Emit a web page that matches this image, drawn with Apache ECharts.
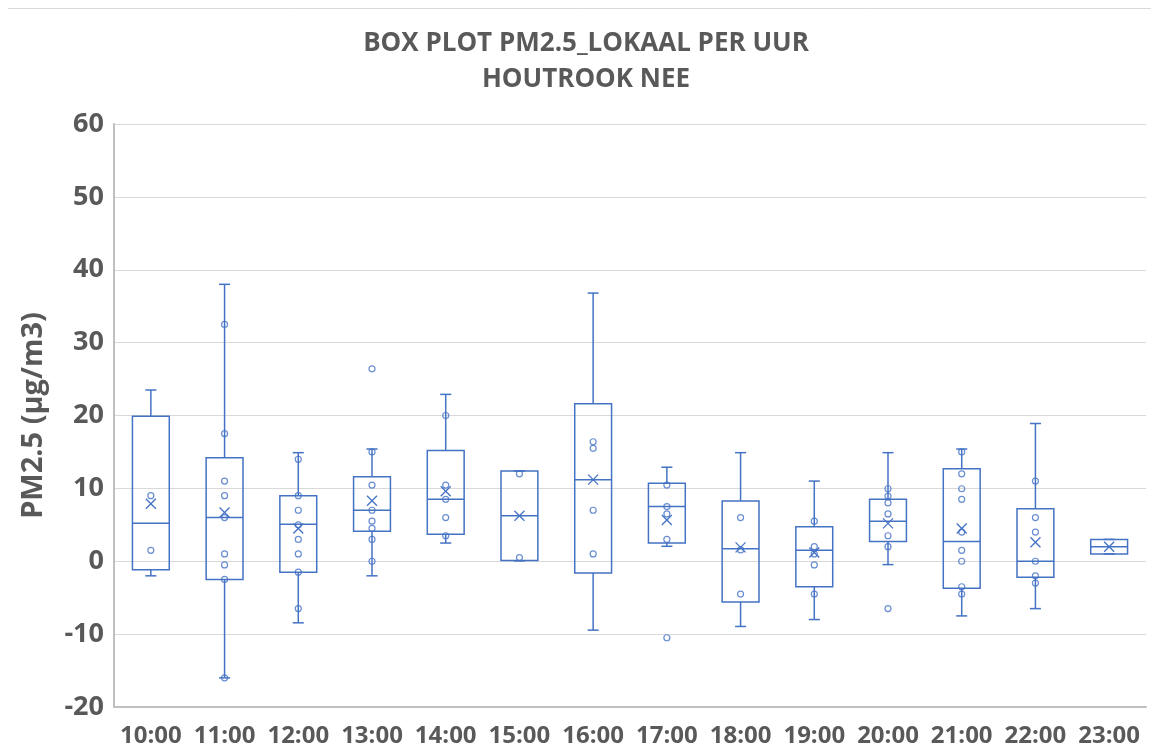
<!DOCTYPE html>
<html>
<head>
<meta charset="utf-8">
<script src="https://cdn.jsdelivr.net/npm/echarts@6/dist/echarts.min.js"></script>
<style>html,body{margin:0;padding:0;background:#fff}#c{width:1151px;height:753px}</style>
</head>
<body>
<div id="c"></div>
<script>
const categories = ['10:00','11:00','12:00','13:00','14:00','15:00','16:00','17:00','18:00','19:00','20:00','21:00','22:00','23:00'];
// [whisker low, Q1, median, Q3, whisker high]
const boxStats = [
  [-2.0, -1.15, 5.2, 19.9, 23.5],
  [-16.0, -2.5, 6.0, 14.2, 38.0],
  [-8.45, -1.5, 5.07, 9.0, 14.9],
  [-2.0, 4.1, 7.0, 11.6, 15.4],
  [2.5, 3.7, 8.5, 15.2, 22.9],
  [0.05, 0.1, 6.25, 12.4, 12.4],
  [-9.45, -1.6, 11.2, 21.6, 36.8],
  [2.05, 2.5, 7.5, 10.7, 12.9],
  [-8.95, -5.6, 1.7, 8.26, 14.9],
  [-8.0, -3.5, 1.5, 4.75, 11.0],
  [-0.46, 2.7, 5.5, 8.5, 14.9],
  [-7.5, -3.7, 2.7, 12.7, 15.4],
  [-6.5, -2.2, 0.0, 7.2, 18.9],
  [1.0, 1.0, 2.0, 3.0, 3.0]
];
const means = [7.9, 6.7, 4.5, 8.3, 9.6, 6.25, 11.2, 5.65, 1.9, 1.2, 5.2, 4.5, 2.6, 2.0];
const points = [
  [9.0, 1.5],
  [32.5, 17.5, 11.0, 9.0, 6.0, 1.0, -0.5, -2.5, -16.0],
  [14.0, 9.0, 7.0, 5.0, 3.0, 1.0, -1.5, -6.5],
  [26.4, 15.0, 10.45, 7.0, 5.5, 4.5, 3.0, 0.0],
  [20.0, 10.45, 8.5, 6.0, 3.5],
  [12.0, 0.5],
  [16.4, 15.5, 7.0, 1.0],
  [10.45, 7.5, 6.5, 3.0, -10.5],
  [6.0, 1.55, -4.5],
  [5.5, 2.0, 1.0, -0.5, -4.5],
  [9.95, 8.95, 8.0, 6.5, 3.5, 2.0, -6.5],
  [15.0, 12.0, 9.95, 8.5, 4.0, 1.5, 0.0, -3.5, -4.5],
  [11.0, 6.0, 4.0, 0.0, -2.0, -3.0],
  []
];
const yTicks = {min: -20, max: 60, interval: 10};

const BLUE = '#4472C4';
const GREY = '#595959';
const FONT = 'Open Sans';

const boxData = boxStats.map((s, i) => [i].concat(s).concat([means[i]]));
const pointData = [];
points.forEach((arr, i) => arr.forEach(v => pointData.push([i, v])));

const chart = echarts.init(document.getElementById('c'), null, {renderer: 'canvas'});
chart.setOption({
  animation: false,
  backgroundColor: '#fff',
  title: {
    text: 'BOX PLOT PM2.5_LOKAAL PER UUR\nHOUTROOK NEE',
    left: 581, top: 21, textAlign: 'center',
    textStyle: {fontFamily: FONT, fontWeight: 'bold', fontSize: 26, color: GREY, lineHeight: 36}
  },
  graphic: [{
    type: 'line', shape: {x1: 8, y1: 8.5, x2: 1151, y2: 8.5},
    style: {stroke: '#d9d9d9', lineWidth: 1}, silent: true
  }],
  grid: {left: 114, right: 5, top: 124, bottom: 46, containLabel: false},
  xAxis: {
    type: 'category', data: categories,
    axisTick: {show: false},
    axisLine: {onZero: false, lineStyle: {color: '#bfbfbf', width: 2}},
    axisLabel: {interval: 0, margin: 17, fontFamily: FONT, fontWeight: 'bold', fontSize: 24, color: GREY},
    splitLine: {show: false}
  },
  yAxis: {
    type: 'value', min: yTicks.min, max: yTicks.max, interval: yTicks.interval,
    name: 'PM2.5 (µg/m3)', nameLocation: 'middle', nameGap: 66, nameRotate: 90,
    nameTextStyle: {fontFamily: FONT, fontWeight: 'bold', fontSize: 29, color: GREY},
    axisLine: {show: true, lineStyle: {color: '#bfbfbf', width: 2}},
    axisTick: {show: false},
    axisLabel: {margin: 10, fontFamily: FONT, fontWeight: 'bold', fontSize: 27, color: GREY},
    splitLine: {lineStyle: {color: '#d9d9d9', width: 1}}
  },
  series: [
    {
      type: 'custom',
      data: boxData,
      encode: {x: 0, y: [1, 2, 3, 4, 5, 6]},
      renderItem: function (params, api) {
        const i = api.value(0);
        const band = api.size([1, 0])[0];
        const half = band * 0.25;
        const cap = band * 0.075;
        const x = api.coord([i, 0])[0];
        const y = k => api.coord([i, api.value(k)])[1];
        const lo = y(1), q1 = y(2), med = y(3), q3 = y(4), hi = y(5), mn = y(6);
        const st = {stroke: BLUE, lineWidth: 1.5, fill: 'none'};
        const line = (x1, y1, x2, y2, w) => ({type: 'line', shape: {x1, y1, x2, y2}, style: {stroke: BLUE, lineWidth: w || 1.5}});
        const m = 5;
        return {
          type: 'group',
          children: [
            line(x, hi, x, q3),
            line(x, q1, x, lo),
            line(x - cap, hi, x + cap, hi),
            line(x - cap, lo, x + cap, lo),
            {type: 'rect', shape: {x: x - half, y: q3, width: 2 * half, height: q1 - q3}, style: st},
            line(x - half, med, x + half, med),
            line(x - m, mn - m, x + m, mn + m, 1.3),
            line(x - m, mn + m, x + m, mn - m, 1.3)
          ]
        };
      },
      z: 2
    },
    {
      type: 'scatter',
      data: pointData,
      symbol: 'circle',
      symbolSize: 6,
      itemStyle: {color: 'rgba(255,255,255,0)', borderColor: BLUE, borderWidth: 1.2},
      z: 3
    }
  ]
});
</script>
</body>
</html>
